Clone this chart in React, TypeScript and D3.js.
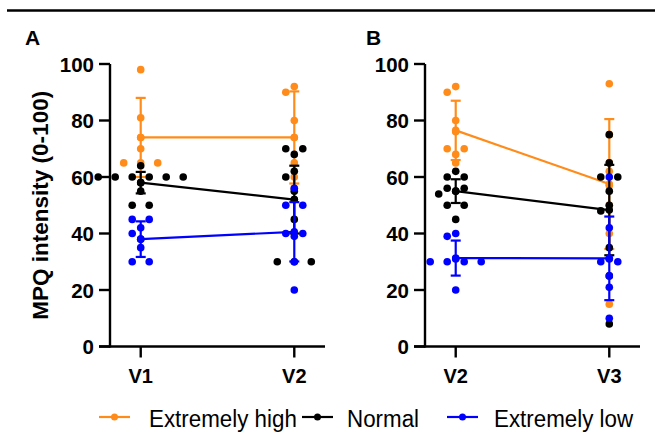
import * as d3 from "d3";

const FONT = "'Liberation Sans', Arial, Helvetica, sans-serif";
const WIDTH = 655;
const HEIGHT = 432;

// groups / colours
const groupNames = ["Extremely high", "Normal", "Extremely low"];
const groupColors = ["#ff8c1a", "#000000", "#0000ff"];

// tick labels
const yTicks = [0, 20, 40, 60, 80, 100];
const visitsA = ["V1", "V2"];
const visitsB = ["V2", "V3"];

// panel A individual values (MPQ intensity)
const aHighV1 = [98, 81, 74, 70, 65, 65, 65];
const aHighV2 = [92, 90, 80, 74, 65, 60, 56];
const aNormalV1 = [64, 60, 60, 60, 60, 60, 60, 58, 55, 50, 50];
const aNormalV2 = [70, 70, 68, 62, 60, 55, 52, 45, 30, 30, 30];
const aLowV1 = [45, 45, 42, 40, 38, 35, 30, 30];
const aLowV2 = [56, 50, 50, 40, 40, 39, 30, 20];

// panel B individual values
const bHighV2 = [92, 90, 80, 76, 70, 70, 68, 65];
const bHighV3 = [93, 75, 65, 62, 57, 50, 40, 15];
const bNormalV2 = [62, 60, 60, 56, 56, 55, 54, 50, 50, 45];
const bNormalV3 = [75, 65, 60, 60, 55, 50, 48, 35, 25, 8];
const bLowV2 = [40, 39, 31, 30, 30, 30, 30, 20];
const bLowV3 = [60, 42, 31, 30, 30, 25, 21, 10];

// mean and SD per group (rows: high, normal, low; cols: visit)
const aMeans = [[74, 74], [58, 52], [38, 40.6]];
const aSds = [[14, 16.3], [3.8, 12], [6.3, 10.5]];
const bMeans = [[76.5, 57.5], [55, 48.3], [31.3, 31.2]];
const bSds = [[10.5, 23], [4.2, 16], [6.2, 14.8]];

const panels = [
  {
    label: "A",
    visits: visitsA,
    values: [[aHighV1, aHighV2], [aNormalV1, aNormalV2], [aLowV1, aLowV2]],
    means: aMeans,
    sds: aSds,
    left: 110,
    labelX: 25,
  },
  {
    label: "B",
    visits: visitsB,
    values: [[bHighV2, bHighV3], [bNormalV2, bNormalV3], [bLowV2, bLowV3]],
    means: bMeans,
    sds: bSds,
    left: 425,
    labelX: 366,
  },
];

const plotW = 215;
const DOT_R = 3.8;
const STEP = 8.5;

const y = d3.scaleLinear().domain([0, 100]).range([346.5, 64]);

// simple beeswarm: rows of equal values spread around the centre, then
// nudge anything that still collides with an already placed dot
const swarm = (vals: number[]) => {
  const placed: { v: number; dx: number }[] = [];
  const rows = d3.groups(vals, (v) => v).sort((a, b) => b[0] - a[0]);
  rows.forEach(([v, items]) => {
    const n = items.length;
    items.forEach((_, i) => {
      const ideal = n % 2 === 0 ? (2 * i - (n - 1)) * STEP : (i - (n - 1) / 2) * 2 * STEP;
      const cands = d3.range(-8, 9).map((k) => k * STEP)
        .sort((a, b) => Math.abs(a - ideal) - Math.abs(b - ideal));
      const ok = (dx: number) => placed.every((p) => {
        const dy = y(p.v) - y(v);
        return Math.hypot(p.dx - dx, dy) >= DOT_R * 2 - 0.6;
      });
      const dx = cands.find(ok) ?? ideal;
      placed.push({ v, dx });
    });
  });
  return placed;
};

const Panel = ({ p }: { p: typeof panels[number] }) => {
  const x = d3.scalePoint<string>().domain(p.visits).range([p.left, p.left + plotW]).padding(0.2);
  const y0 = y(0);
  const line = d3.line<[string, number]>().x((d) => x(d[0]) as number).y((d) => y(d[1]));
  return (
    <g>
      <text x={p.labelX} y={45} fontSize={21} fontWeight="bold" fontFamily={FONT}>{p.label}</text>
      {/* axes */}
      <line x1={p.left} x2={p.left} y1={y(100)} y2={y0 + 1} stroke="#000" strokeWidth={2.4} />
      <line x1={p.left - 11} x2={p.left + plotW} y1={y0} y2={y0} stroke="#000" strokeWidth={2.4} />
      {yTicks.map((t) => (
        <g key={t}>
          <line x1={p.left - 11} x2={p.left} y1={y(t)} y2={y(t)} stroke="#000" strokeWidth={2.4} />
          <text x={p.left - 16} y={y(t) + 7.5} textAnchor="end" fontSize={20.5} fontWeight="bold" fontFamily={FONT}>{t}</text>
        </g>
      ))}
      {p.visits.map((v) => (
        <g key={v}>
          <line x1={x(v)} x2={x(v)} y1={y0} y2={y0 + 11} stroke="#000" strokeWidth={2.4} />
          <text x={x(v)} y={383} textAnchor="middle" fontSize={20} fontWeight="bold" fontFamily={FONT}>{v}</text>
        </g>
      ))}
      {/* series */}
      {p.values.map((series, gi) => {
        const color = groupColors[gi];
        return (
          <g key={gi}>
            {series.map((vals, vi) =>
              swarm(vals).map((d, k) => (
                <circle key={`${vi}-${k}`} cx={(x(p.visits[vi]) as number) + d.dx} cy={y(d.v)} r={DOT_R} fill={color} />
              ))
            )}
            <path
              d={line(p.visits.map((v, vi) => [v, p.means[gi][vi]]) as [string, number][]) ?? ""}
              fill="none" stroke={color} strokeWidth={2.2}
            />
            {p.visits.map((v, vi) => {
              const cx = x(v) as number;
              const m = p.means[gi][vi];
              const s = p.sds[gi][vi];
              return (
                <g key={v} stroke={color} strokeWidth={2.2}>
                  <line x1={cx} x2={cx} y1={y(m + s)} y2={y(m - s)} />
                  <line x1={cx - 5} x2={cx + 5} y1={y(m + s)} y2={y(m + s)} />
                  <line x1={cx - 5} x2={cx + 5} y1={y(m - s)} y2={y(m - s)} />
                  <circle cx={cx} cy={y(m)} r={DOT_R} fill={color} stroke="none" />
                </g>
              );
            })}
          </g>
        );
      })}
    </g>
  );
};

const legendX = [99, 302, 447];
const legendTextX = [149, 347, 494];

export default function App() {
  return (
    <div style={{ position: "absolute", left: 0, top: 0 }}>
      <svg width={WIDTH} height={HEIGHT} style={{ display: "block", background: "#fff" }}>
        <line x1={7} x2={WIDTH} y1={10.5} y2={10.5} stroke="#000" strokeWidth={2.5} />
        {panels.map((p) => <Panel key={p.label} p={p} />)}
        <text
          transform={`translate(48, ${(y(0) + y(100)) / 2}) rotate(-90)`}
          textAnchor="middle" fontSize={22.5} fontWeight="bold" fontFamily={FONT}
        >
          MPQ intensity (0-100)
        </text>
        {groupNames.map((name, i) => (
          <g key={name}>
            <g transform={`translate(${legendX[i]}, 417)`}>
              <line x1={0} x2={31} y1={0} y2={0} stroke={groupColors[i]} strokeWidth={2.2} />
              <circle cx={15.5} cy={0} r={3.5} fill={groupColors[i]} />
            </g>
            <text
              transform={`translate(${legendTextX[i]}, 427) scale(0.932, 1)`}
              fontSize={24} fontFamily={FONT}
            >
              {name}
            </text>
          </g>
        ))}
      </svg>
    </div>
  );
}
